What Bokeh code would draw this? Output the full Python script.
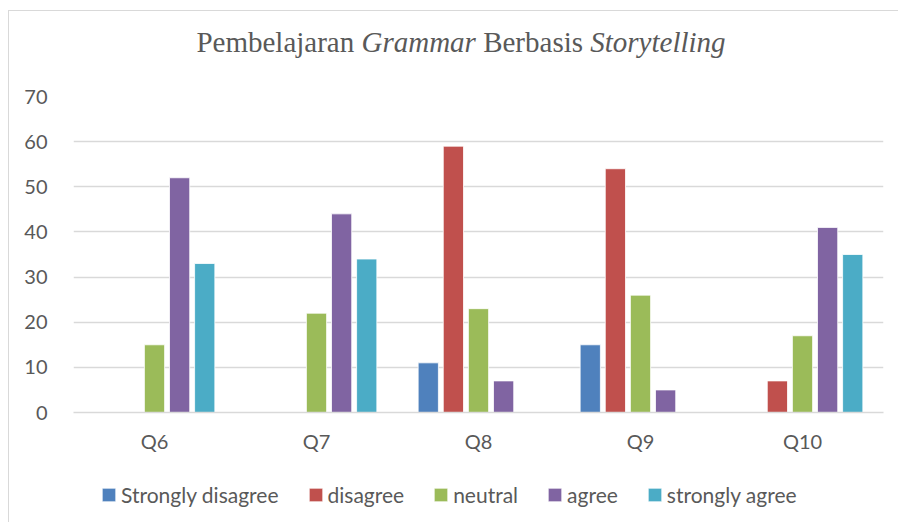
from bokeh.plotting import figure
from bokeh.models import FactorRange, Range1d, Legend, LegendItem, ColumnDataSource, Div
from bokeh.transform import dodge
from bokeh.embed import file_html
from bokeh.resources import INLINE

categories = ["Q6", "Q7", "Q8", "Q9", "Q10"]
strongly_disagree = [0, 0, 11, 15, 0]
disagree = [0, 0, 59, 54, 7]
neutral = [15, 22, 23, 26, 17]
agree = [52, 44, 7, 5, 41]
strongly_agree = [33, 34, 0, 0, 35]
series_names = ["Strongly disagree", "disagree", "neutral", "agree", "strongly agree"]
series_keys = ["sd", "d", "n", "a", "sa"]
colors = ["#4F81BD", "#C0504D", "#9BBB59", "#8064A2", "#4BACC6"]
y_ticks = [0, 10, 20, 30, 40, 50, 60, 70]

source = ColumnDataSource(dict(cat=categories, sd=strongly_disagree, d=disagree,
                               n=neutral, a=agree, sa=strongly_agree))

grey = "#595959"
font = "Lato"
border_css = "1px solid #d9d9d9"

W = 890
HD = 60
ML, MR, MT, MB = 64, 16, 26, 60
H = MT + 316 + MB

title_div = Div(
    text='<div style="width:890px; box-sizing:border-box; text-align:center; padding-left:14px; padding-top:11px; '
         'font-family:\'Liberation Serif\'; font-size:29px; color:#595959; white-space:nowrap;">'
         'Pembelajaran <i>Grammar</i> Berbasis <i>Storytelling</i></div>',
    width=W, height=HD, margin=0,
    styles={"margin-top": "10px", "margin-left": "8px",
            "border-top": border_css, "border-left": border_css})

p = figure(width=W, height=H, x_range=FactorRange(*categories), y_range=Range1d(0, 70),
           output_backend="svg", toolbar_location=None, margin=0,
           min_border_left=ML, min_border_right=MR, min_border_top=MT, min_border_bottom=MB,
           styles={"margin-left": "8px", "border-left": border_css})
p.outline_line_color = None

p.xgrid.grid_line_color = None
p.ygrid.grid_line_color = "#d9d9d9"
p.ygrid.grid_line_width = 1.5
p.yaxis.ticker = y_ticks
p.yaxis.axis_line_color = None
p.yaxis.major_tick_line_color = None
p.yaxis.minor_tick_line_color = None
p.yaxis.major_label_standoff = 20
p.xaxis.axis_line_color = "#d9d9d9"
p.xaxis.axis_line_width = 1.5
p.xaxis.major_tick_line_color = None
p.xaxis.minor_tick_line_color = None
p.xaxis.major_label_standoff = 10
for ax in (p.xaxis[0], p.yaxis[0]):
    ax.major_label_text_font = font
    ax.major_label_text_font_size = "20px"
    ax.major_label_text_color = grey

step = 0.155
bw = 0.125
for i, (key, col) in enumerate(zip(series_keys, colors)):
    p.vbar(x=dodge("cat", (i - 2) * step, range=p.x_range), top=key, width=bw,
           source=source, fill_color=col, line_color="white", line_width=0.8)

# Legend strip: a small figure whose frame is the whole canvas, so the legend is not clipped.
LH = 50
pl = figure(width=W, height=LH, x_range=FactorRange(*categories), y_range=Range1d(100, 101),
            x_axis_type=None, y_axis_type=None, output_backend="svg", toolbar_location=None,
            margin=0, min_border=0, min_border_left=0, min_border_right=0,
            min_border_top=0, min_border_bottom=0,
            styles={"margin-left": "8px", "border-left": border_css})
pl.outline_line_color = None
items = []
for i, (key, name, col) in enumerate(zip(series_keys, series_names, colors)):
    r = pl.vbar(x=dodge("cat", (i - 2) * step, range=pl.x_range), top=key, width=bw,
                source=source, fill_color=col, line_color="white", line_width=0.8)
    items.append(LegendItem(label=name, renderers=[r]))

legend = Legend(items=items, orientation="horizontal", location=(91, 15),
                glyph_width=17, glyph_height=17, label_standoff=4, spacing=28,
                padding=0, margin=0, border_line_color=None, background_fill_alpha=0,
                label_text_font=font, label_text_font_size="21px", label_text_color=grey)
pl.add_layout(legend, "center")

open("out.html", "w").write(file_html([title_div, p, pl], INLINE))
